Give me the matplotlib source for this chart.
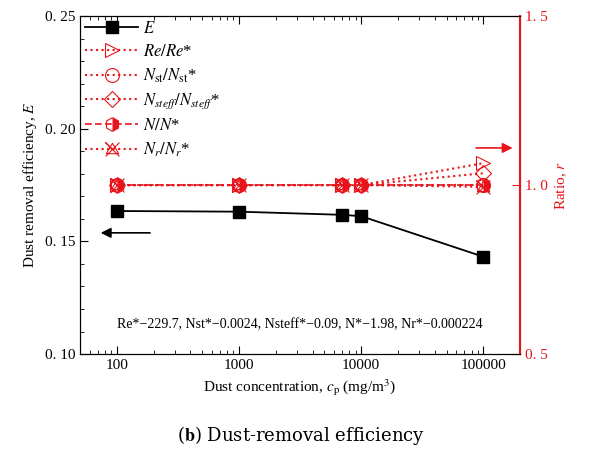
import numpy as np
import matplotlib.pyplot as plt
from matplotlib.path import Path
from matplotlib.ticker import MultipleLocator, FixedLocator, FixedFormatter, LogLocator, NullFormatter

plt.rcParams['font.family'] = ['Liberation Serif', 'DejaVu Serif']
plt.rcParams['mathtext.fontset'] = 'stix'

conc = [100, 1000, 7000, 10000, 100000]
eff = [0.1635, 0.1632, 0.1618, 0.1612, 0.1432]
re_ratio = [1.0, 1.0, 1.0, 1.0, 1.065]
nst_ratio = [1.0, 1.0, 1.0, 1.0, 1.0]
nsteff_ratio = [1.0, 1.0, 1.0, 1.0, 1.035]
n_ratio = [1.0, 1.0, 1.0, 1.0, 1.0]
nr_ratio = [1.0, 1.0, 1.0, 1.0, 0.995]

left_ticks = [0.10, 0.15, 0.20, 0.25]
left_labels = ["0. 10", "0. 15", "0. 20", "0. 25"]
right_ticks = [0.5, 1.0, 1.5]
right_labels = ["0. 5", "1. 0", "1. 5"]
x_ticks = [100, 1000, 10000, 100000]
x_labels = ["100", "1000", "10000", "100000"]

red = "#e8141c"

# x plus triangle marker for N_r
tri_x = Path([(-1, -1), (1, 1), (0, 0), (-1, 1), (1, -1), (0, 0),
              (-0.9, -0.6), (0, 0.9), (0.9, -0.6), (-0.9, -0.6)],
             [Path.MOVETO, Path.LINETO, Path.MOVETO, Path.LINETO, Path.LINETO, Path.MOVETO,
              Path.MOVETO, Path.LINETO, Path.LINETO, Path.LINETO])

fig = plt.figure(figsize=(6.02, 4.61), dpi=100)
ax = fig.add_axes([0.133, 0.232, 0.731, 0.733])
ax2 = ax.twinx()

l1, = ax.plot(conc, eff, color="black", marker="s", ms=9, lw=1.3, label=r"$E$")

l2, = ax2.plot(conc, re_ratio, color=red, ls=":", lw=1.5, marker=">", ms=10,
               mfc="none", mew=0.8, label=r"$Re/Re$*")
l3, = ax2.plot(conc, nst_ratio, color=red, ls=":", lw=1.5, marker="o", ms=10,
               mfc="none", mew=0.8, label=r"$N_{\rm st}/N_{\rm st}$*")
l4, = ax2.plot(conc, nsteff_ratio, color=red, ls=":", lw=1.5, marker="D", ms=8,
               mfc="none", mew=0.8, label=r"$N_{steff}/N_{steff}$*")
l5, = ax2.plot(conc, n_ratio, color=red, ls=(0, (4, 2)), lw=1.2, marker="h", ms=10,
               fillstyle="right", mfc=red, mfcalt="none", mew=0.8, label=r"$N/N$*")
l6, = ax2.plot(conc, nr_ratio, color=red, ls=":", lw=1.5, marker=tri_x, ms=10,
               mfc="none", mew=0.8, label=r"$N_r/N_r$*")

ax.set_xscale("log")
ax.set_xlim(50, 200000)
ax.set_ylim(0.10, 0.25)
ax2.set_ylim(0.5, 1.5)

ax.xaxis.set_major_locator(FixedLocator(x_ticks))
ax.xaxis.set_major_formatter(FixedFormatter(x_labels))
ax.xaxis.set_minor_locator(LogLocator(base=10, subs=np.arange(2, 10)))
ax.xaxis.set_minor_formatter(NullFormatter())
ax.yaxis.set_major_locator(FixedLocator(left_ticks))
ax.yaxis.set_major_formatter(FixedFormatter(left_labels))
ax.yaxis.set_minor_locator(MultipleLocator(0.01))
ax2.yaxis.set_major_locator(FixedLocator(right_ticks))
ax2.yaxis.set_major_formatter(FixedFormatter(right_labels))
ax2.yaxis.set_minor_locator(MultipleLocator(0.1))

ax.tick_params(which="both", direction="in", top=True, labelsize=11)
ax.tick_params(which="major", length=6)
ax.tick_params(which="minor", length=3)
ax2.tick_params(which="both", direction="in", colors=red, labelsize=11)
ax2.tick_params(which="major", length=6)
ax2.tick_params(which="minor", length=0)
ax2.spines["right"].set_color(red)
ax2.spines["right"].set_linewidth(1.5)

ax.set_xlabel(r"Dust concentration, $c_{\rm p}$ (mg/m$^3$)", fontsize=11)
ax.set_ylabel(r"Dust removal efficiency, $E$", fontsize=11)
ax2.set_ylabel(r"Ratio, $r$", fontsize=11, color=red)

ax.annotate("", xy=(70, 0.1538), xytext=(197, 0.1538),
            arrowprops=dict(arrowstyle="-|>", color="black", lw=1.2, mutation_scale=15))
ax2.annotate("", xy=(183000, 1.11), xytext=(82800, 1.11),
             arrowprops=dict(arrowstyle="-|>", color=red, lw=1.2, mutation_scale=15))

ax.text(0.5, 0.086, "Re*\u2212229.7, Nst*\u22120.0024, Nsteff*\u22120.09, N*\u22121.98, Nr*\u22120.000224",
        transform=ax.transAxes, ha="center", va="center", fontsize=10)

leg = ax.legend(handles=[l1, l2, l3, l4, l5, l6], loc="upper left", frameon=False,
                fontsize=12, handlelength=3.2, labelspacing=0.4,
                borderaxespad=0.1, handletextpad=0.3, borderpad=0.2)

fig.text(0.5, 0.055, r"($\mathbf{b}$) Dust-removal efficiency", ha="center", va="center",
         fontsize=13, family=["DejaVu Serif"])

fig.savefig("out.png", dpi=100)
